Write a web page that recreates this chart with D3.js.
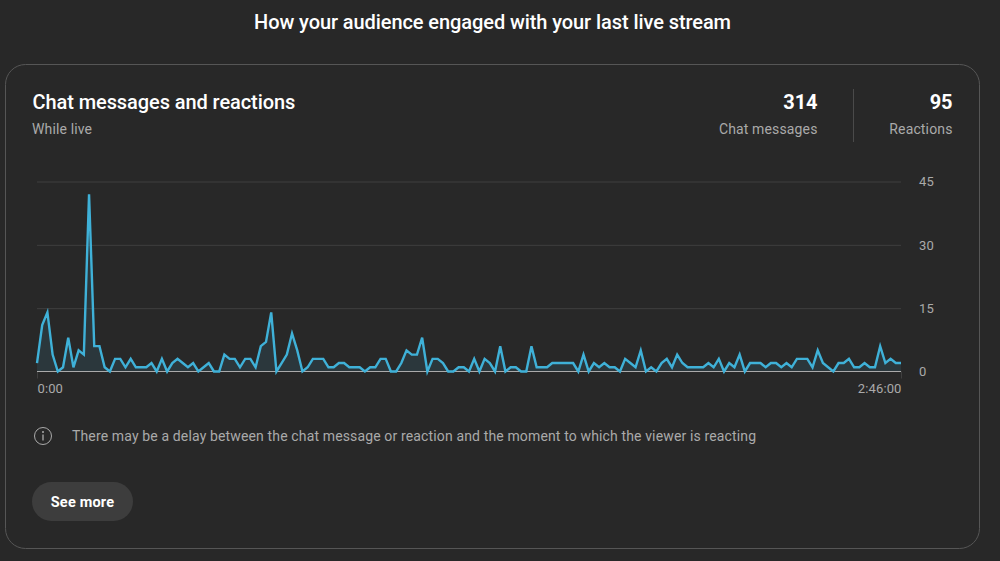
<!DOCTYPE html>
<meta charset="utf-8">
<style>
html,body{margin:0;background:#282828;overflow:hidden;}
svg{display:block;font-family:Roboto,sans-serif;}
text{font-family:Roboto,sans-serif;}
.grid .domain{display:none;}
.grid line{stroke:#3f3f3f;}
.grid text{fill:#aaa;font-size:13px;letter-spacing:.12px;}
.time .domain{display:none;}
.time line{stroke:#3f3f3f;}
.time text{fill:#aaa;font-size:13px;letter-spacing:.12px;}
.sub{fill:#aaa;font-size:14px;letter-spacing:.14px;}
.head{fill:#fff;font-size:20px;font-weight:500;letter-spacing:-.08px;}
</style>
<svg id="chart" width="1000" height="561"></svg>
<script src="https://d3js.org/d3.v7.min.js"></script>
<script>
// chat messages + reactions per minute
const counts = [
  2,11,14,4,0,1,8,1,5,4,42,6,6,1,0,3,3,1,3,1,1,1,2,0,3,0,2,3,2,1,2,0,1,2,0,0,
  4,3,3,1,3,3,1,6,7,14,0,2,4,9,5,0,1,3,3,3,1,1,2,2,1,1,1,0,1,1,3,3,0,0,2,5,4,4,
  8,0,3,3,2,0,0,1,1,0,3,0,3,2,0,6,0,1,1,0,0,6,1,1,1,2,2,2,2,2,0,4,0,2,1,2,1,1,0,
  3,2,1,5,0,1,0,2,3,1,4,2,1,1,1,1,2,1,3,0,2,1,4,0,2,2,2,1,2,2,1,2,1,3,3,3,1,5,2,
  1,0,2,2,3,1,1,2,1,1,6,2,3,2,2
]
const minutes = d3.range(counts.length)
const yTicks = [0, 15, 30, 45]
const timeLabels = ['0:00', '2:46:00']
const stats = [
  {value: '314', label: 'Chat messages', right: 817.5},
  {value: '95', label: 'Reactions', right: 952.5}
]

const svg = d3.select('#chart')
const plotL = 37, plotR = 901, plotT = 181.5, plotB = 371.5

// card
svg.append('rect')
  .attr('x', 5.5).attr('y', 64.5)
  .attr('width', 974).attr('height', 484)
  .attr('rx', 20)
  .attr('fill', '#282828').attr('stroke', '#565656')

svg.append('text').attr('class', 'head').attr('x', 492.5).attr('y', 29)
  .attr('text-anchor', 'middle')
  .text('How your audience engaged with your last live stream')

svg.append('text').attr('class', 'head').attr('x', 32.5).attr('y', 109)
  .text('Chat messages and reactions')
svg.append('text').attr('class', 'sub').attr('x', 32).attr('y', 134).text('While live')

stats.forEach(s => {
  svg.append('text').attr('class', 'head').attr('x', s.right).attr('y', 109)
    .attr('text-anchor', 'end').style('font-weight', 700).text(s.value)
  svg.append('text').attr('class', 'sub').attr('x', s.right).attr('y', 134)
    .attr('text-anchor', 'end').text(s.label)
})
svg.append('line').attr('x1', 853.5).attr('x2', 853.5).attr('y1', 89).attr('y2', 142)
  .attr('stroke', '#4a4a4a')

// scales
const x = d3.scaleLinear().domain([0, counts.length - 1]).range([plotL, plotR])
const y = d3.scaleLinear().domain([0, 45]).range([plotB, plotT])

// horizontal grid and value labels
const yAxis = d3.axisRight(y).tickValues(yTicks).tickSize(-(plotR - plotL)).tickPadding(18)
const gy = svg.append('g').attr('class', 'grid')
  .attr('transform', `translate(${plotR},0)`)
  .call(yAxis)
gy.selectAll('.tick').filter(d => d === 0).select('line').attr('stroke-opacity', 0)

// time axis
const xAxis = d3.axisBottom(x)
  .tickValues([0, counts.length - 1])
  .tickFormat((d, i) => timeLabels[i])
  .tickSize(7).tickPadding(5)
const gx = svg.append('g').attr('class', 'time')
  .attr('transform', `translate(0,${plotB})`)
  .call(xAxis)
gx.selectAll('text').attr('text-anchor', (d, i) => i ? 'end' : 'start')

// area + line
svg.append('path').datum(minutes)
  .attr('fill', '#3ea6d0').attr('fill-opacity', 0.12)
  .attr('d', d3.area().x(d => x(d)).y0(y(0)).y1(d => y(counts[d])))

svg.append('line')
  .attr('x1', plotL).attr('x2', plotR)
  .attr('y1', y(0)).attr('y2', y(0))
  .attr('stroke', '#aaa')

svg.append('path').datum(minutes)
  .attr('fill', 'none').attr('stroke', '#3fb1d8').attr('stroke-width', 2.4)
  .attr('d', d3.line().x(d => x(d)).y(d => y(counts[d])))

// note
const note = svg.append('g').attr('transform', 'translate(43,436)')
note.append('circle').attr('r', 8.5).attr('fill', 'none').attr('stroke', '#aaa')
note.append('circle').attr('cy', -4).attr('r', 1).attr('fill', '#aaa')
note.append('line').attr('y1', -1.5).attr('y2', 4.5).attr('stroke', '#aaa').attr('stroke-width', 1.3)
svg.append('text').attr('class', 'sub').attr('x', 72).attr('y', 441)
  .text('There may be a delay between the chat message or reaction and the moment to which the viewer is reacting')

// button
svg.append('rect').attr('x', 32).attr('y', 482)
  .attr('width', 101).attr('height', 39).attr('rx', 19.5).attr('fill', '#3d3d3d')
svg.append('text').attr('x', 82.5).attr('y', 507)
  .attr('text-anchor', 'middle').attr('fill', '#fff')
  .style('font-size', '14.5px').style('font-weight', 700).style('letter-spacing', '.2px').text('See more')
</script>
